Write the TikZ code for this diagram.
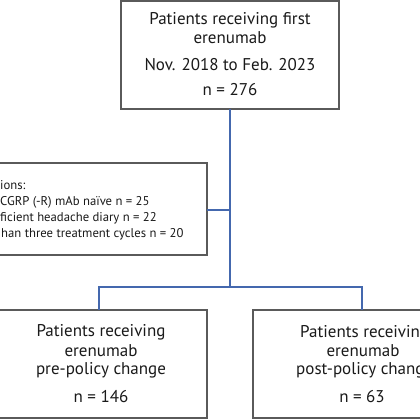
\documentclass[tikz,border=0pt]{standalone}
\usepackage{fontspec}
\setmainfont{PT Sans}
\definecolor{boxgray}{HTML}{5A5A5A}
\definecolor{linkblue}{HTML}{4468AE}
\definecolor{textcol}{HTML}{1A1A1A}
\begin{document}
\begin{tikzpicture}[x=1pt,y=-1pt,
  flowbox/.style={draw=boxgray,line width=1.3pt},
  link/.style={draw=linkblue,line width=1.2pt},
  txt/.style={inner sep=0pt,text=textcol,font=\fontsize{17}{19}\selectfont},
  smalltxt/.style={inner sep=0pt,anchor=west,text=textcol,font=\fontsize{12.7}{14}\selectfont}]
\useasboundingbox (0,0) rectangle (420,420);
\clip (0,0) rectangle (420,420);
\fill[white] (0,0) rectangle (420,420);
% boxes
\draw[flowbox] (121,1) rectangle (339,109);
\coordinate (topbot) at (230,109);
\draw[flowbox] (-10,163) rectangle (207,255);
\coordinate (exright) at (207,210);
\draw[flowbox] (-5,310) rectangle (207,418);
\coordinate (ltop) at (99,310);
\draw[flowbox] (253,310) rectangle (472,418);
\coordinate (rtop) at (362,310);
% top texts
\node[txt] (t1) at (230,20) {Patients receiving first};
\node[txt] (t2) at (230,38) {erenumab};
\node[txt] (t3) at (230,65) {Nov. 2018 to Feb. 2023};
\node[txt] (t4) at (230,90) {n = 276};
% exclusion texts
\node[smalltxt] (e1) at (0,185) {ions:};
\node[smalltxt] (e2) at (0,202) {CGRP (-R) mAb naïve n = 25};
\node[smalltxt] (e3) at (0,218) {ficient headache diary n = 22};
\node[smalltxt] (e4) at (1,234) {han three treatment cycles n = 20};
% left bottom texts
\node[txt] (l1) at (101,332) {Patients receiving};
\node[txt] (l2) at (101,351) {erenumab};
\node[txt] (l3) at (101,370) {pre-policy change};
\node[txt] (l4) at (101,397) {n = 146};
% right bottom texts
\node[txt,anchor=west] (r1) at (300,332) {Patients receivin};
\node[txt] (r2) at (363,351) {erenumab};
\node[txt,anchor=west] (r3) at (296,370) {post-policy chang};
\node[txt] (r4) at (362,397) {n = 63};
% connectors
\coordinate (split) at (230,287);
\coordinate (exjoin) at (230,210);
\draw[link] (topbot) -- (split);
\draw[link] (exjoin) -- (exright);
\draw[link] (ltop) |- (split) -| (rtop);
\end{tikzpicture}
\end{document}
